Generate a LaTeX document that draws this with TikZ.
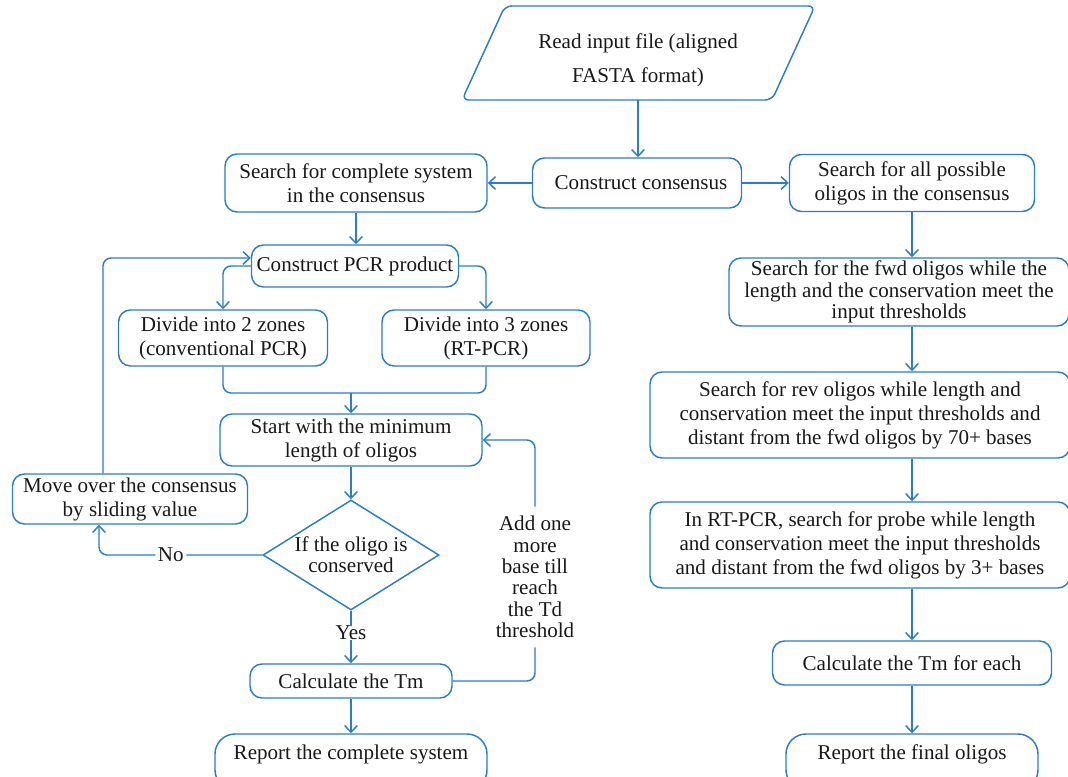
\documentclass[tikz,border=0pt]{standalone}
\usepackage{fontspec}
\setmainfont{Liberation Serif}
\usetikzlibrary{arrows.meta,shapes.geometric}
\definecolor{fc}{HTML}{2A7DC8}
\begin{document}
\begin{tikzpicture}[x=0.75pt,y=-0.75pt,
  every node/.style={font=\fontsize{15.8}{18}\selectfont, text=black!90, align=center, inner sep=0pt},
  box/.style 2 args={draw=fc, line width=1.1pt, rounded corners=9pt, minimum width=#1*0.75pt, minimum height=#2*0.75pt},
  endbox/.style 2 args={box={#1}{#2}, rounded corners=15pt},
  line/.style={draw=fc, line width=1.1pt, rounded corners=6pt},
  arr/.style={line, -{Straight Barb[length=5pt,width=9.5pt]}}]
\useasboundingbox (0,0) rectangle (1068,777);

% input parallelogram
\draw[fc, line width=1.1pt, rounded corners=5pt] (462,100) -- (505,6) -- (815,6) -- (772,100) -- cycle;
\node[minimum width=200pt, minimum height=80*0.75pt] (read) at (638,60) {Read input file (aligned\\[7.5pt]FASTA format)};
\coordinate (readbot) at (638,100);

\node[box={209}{50}] (cons) at (637,183) {\hspace*{6pt}Construct consensus};
\node[box={262}{58}] (comp) at (356,183) {Search for complete system\\in the consensus};
\node[box={245}{57}] (allp) at (912,183) {Search for all possible\\oligos in the consensus};

\node[box={207}{42}] (pcr) at (355,266) {Construct PCR product};
\node[box={209}{56}] (div2) at (223,338) {Divide into 2 zones\\(conventional PCR)};
\node[box={208}{56}] (div3) at (486,338) {Divide into 3 zones\\(RT-PCR)};
\coordinate (merge) at (351,393);
\node[box={262}{52}] (start) at (351,440) {Start with the minimum\\length of oligos};
\node[box={235}{50}] (move) at (130,499) {Move over the consensus\\by sliding value};
\node[diamond, draw=fc, line width=1.1pt, minimum width=176*0.75pt, minimum height=110*0.75pt, aspect=1.6, font=\fontsize{15.8}{16}\selectfont] (cond) at (351,555) {If the oligo is\\conserved};
\node (yes) at (351,633) {Yes};
\node[box={202}{34}] (calc) at (351,681) {Calculate the Tm};
\node[endbox={272}{56}] (rep1) at (351,762) {Report the complete system\\[-8pt]\strut};
\node[minimum height=140*0.75pt, font=\fontsize{15.8}{16}\selectfont] (add) at (535,577) {Add one\\more\\base till\\reach\\the Td\\threshold};

\node[box={340}{68}, font=\fontsize{15.8}{16}\selectfont] (fwd) at (899,292) {Search for the fwd oligos while the\\length and the conservation meet the\\input thresholds};
\node[box={420}{86}] (rev) at (860,415) {Search for rev oligos while length and\\conservation meet the input thresholds and\\distant from the fwd oligos by 70+ bases};
\node[box={420}{86}] (probe) at (860,545) {In RT-PCR, search for probe while length\\and conservation meet the input thresholds\\and distant from the fwd oligos by 3+ bases};
\node[box={279}{44}] (calc2) at (912,663) {Calculate the Tm for each};
\node[endbox={252}{56}] (rep2) at (912,762) {Report the final oligos\\[-8pt]\strut};

% connectors
\draw[arr] (readbot) -- (readbot |- cons.north);
\draw[arr] (cons.west) -- (comp.east);
\draw[arr] (cons.east) -- (allp.west);
\draw[arr] (comp.south) -- (comp.south |- pcr.north);
\draw[arr] (pcr.west) -| (div2.north);
\draw[arr] (pcr.east) -| (div3.north);
\draw[line] (div2.south) |- (merge) -| (div3.south);
\draw[arr] (merge) -- (start.north);
\draw[arr] (start.south) -- (cond.north);
\draw[arr] (cond.west) -| node[pos=0.28, fill=white, inner xsep=2pt] (nolab) {No} ([xshift=-23.25pt]move.south);
\draw[arr] ([xshift=-20.25pt]move.north) |- ([yshift=6pt]pcr.west);
\draw[line] (cond.south) -- (yes.north);
\draw[arr] (yes.south) -- (calc.north);
\draw[arr] (calc.south) -- (rep1.north);
\draw[line] (calc.east) -| (add.south);
\draw[arr] (add.north) |- (start.east);

\draw[arr] (allp.south) -- (allp.south |- fwd.north);
\draw[arr] (allp.south |- fwd.south) -- (allp.south |- rev.north);
\draw[arr] (allp.south |- rev.south) -- (allp.south |- probe.north);
\draw[arr] (allp.south |- probe.south) -- (calc2.north);
\draw[arr] (calc2.south) -- (rep2.north);
\end{tikzpicture}
\end{document}
